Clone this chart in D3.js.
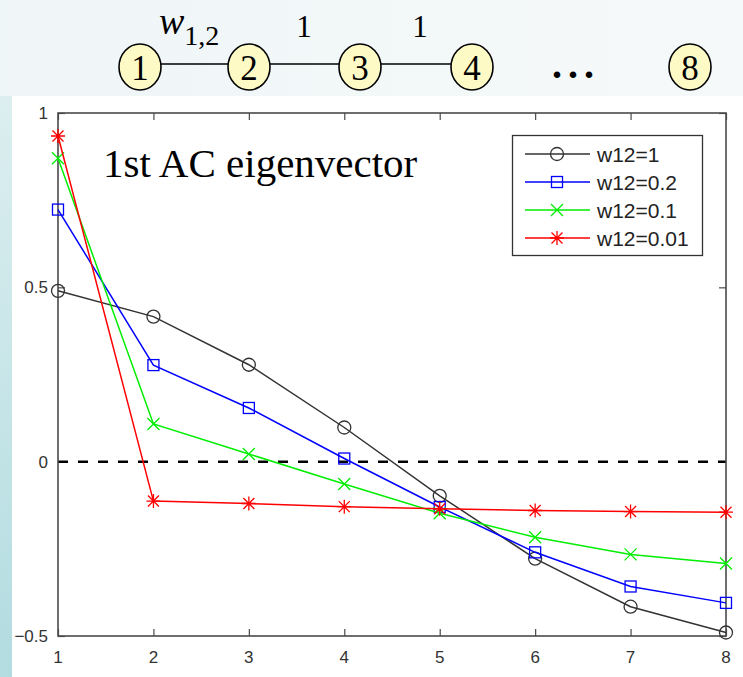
<!DOCTYPE html>
<html>
<head>
<meta charset="utf-8">
<script src="https://cdn.jsdelivr.net/npm/d3@7"></script>
<style>
  html, body { margin: 0; padding: 0; background: #f4f8f9; }
  svg { display: block; }
</style>
</head>
<body>
<svg id="chart" width="743" height="677"></svg>
<script>
// Node positions along the x axis (vertex index of the path graph)
const nodeIndex = [1, 2, 3, 4, 5, 6, 7, 8];

// Entries of the first AC eigenvector for each edge weight w12
const seriesNames = ["w12=1", "w12=0.2", "w12=0.1", "w12=0.01"];
const w12_1    = [0.490, 0.416, 0.278, 0.098, -0.098, -0.278, -0.416, -0.490];
const w12_02   = [0.723, 0.277, 0.154, 0.009, -0.130, -0.260, -0.358, -0.405];
const w12_01   = [0.870, 0.108, 0.022, -0.064, -0.148, -0.217, -0.266, -0.292];
const w12_001  = [0.934, -0.113, -0.120, -0.129, -0.135, -0.140, -0.143, -0.145];

const xTicks = [1, 2, 3, 4, 5, 6, 7, 8];
const yTicks = [-0.5, 0, 0.5, 1];

// Path-graph diagram drawn above the plot
const graphNodes = ["1", "2", "3", "4", "8"];
const edgeWeights = ["1", "1"];

const svg = d3.select("#chart");

// ---- background ----
const defs = svg.append("defs");
const lg = defs.append("linearGradient").attr("id", "stripGrad")
  .attr("x1", 0).attr("y1", 0).attr("x2", 0).attr("y2", 1);
lg.append("stop").attr("offset", "0%").attr("stop-color", "#dceef0");
lg.append("stop").attr("offset", "100%").attr("stop-color", "#b2dce0");

const topGrad = defs.append("linearGradient").attr("id", "topGrad")
  .attr("x1", 0).attr("y1", 0).attr("x2", 1).attr("y2", 0);
topGrad.append("stop").attr("offset", "0%").attr("stop-color", "#eff6f7");
topGrad.append("stop").attr("offset", "100%").attr("stop-color", "#f6f9fa");

svg.append("rect").attr("x", 0).attr("y", 0).attr("width", 743).attr("height", 96)
  .attr("fill", "url(#topGrad)");
svg.append("rect").attr("x", 0).attr("y", 96).attr("width", 12).attr("height", 581)
  .attr("fill", "url(#stripGrad)");
svg.append("rect").attr("x", 12).attr("y", 96).attr("width", 731).attr("height", 581)
  .attr("fill", "#ffffff");

// ---- graph diagram ----
const diag = svg.append("g");
const nodeX = d3.scaleOrdinal().domain(graphNodes).range([140, 249, 360, 472, 690]);
const nodeY = 67;
const nodeRx = 21, nodeRy = 23;

// edges 1-2, 2-3, 3-4
[["1", "2"], ["2", "3"], ["3", "4"]].forEach(([a, b]) => {
  diag.append("line")
    .attr("x1", nodeX(a) + nodeRx).attr("x2", nodeX(b) - nodeRx)
    .attr("y1", nodeY - 3).attr("y2", nodeY - 3)
    .attr("stroke", "#000").attr("stroke-width", 1.6);
});

diag.selectAll("ellipse.node").data(graphNodes).join("ellipse")
  .attr("class", "node")
  .attr("cx", d => nodeX(d)).attr("cy", nodeY)
  .attr("rx", nodeRx).attr("ry", nodeRy)
  .attr("fill", "#fdfac6").attr("stroke", "#000").attr("stroke-width", 1.6);

diag.selectAll("text.nlabel").data(graphNodes).join("text")
  .attr("class", "nlabel")
  .attr("x", d => nodeX(d)).attr("y", nodeY + 13)
  .attr("text-anchor", "middle")
  .attr("font-family", "'Liberation Serif', 'Times New Roman', serif")
  .attr("font-size", 35)
  .text(d => d);

// edge weight w_{1,2}
const wl = diag.append("text")
  .attr("x", 159).attr("y", 34)
  .attr("font-family", "'Liberation Serif', 'Times New Roman', serif");
wl.append("tspan").attr("font-style", "italic").attr("font-size", 38).text("w");
wl.append("tspan").attr("font-size", 28).attr("dy", 11).text("1,2");

diag.selectAll("text.wlabel").data(edgeWeights).join("text")
  .attr("class", "wlabel")
  .attr("x", (d, i) => [304, 420][i]).attr("y", 37)
  .attr("text-anchor", "middle")
  .attr("font-family", "'Liberation Serif', 'Times New Roman', serif")
  .attr("font-size", 31)
  .text(d => d);

diag.append("text")
  .attr("x", 552).attr("y", 78)
  .attr("font-family", "'Liberation Serif', 'Times New Roman', serif")
  .attr("font-size", 40).attr("font-weight", "bold").attr("letter-spacing", 6)
  .text("...");

// ---- plot ----
const x = d3.scaleLinear().domain([1, 8]).range([58, 726]);
const y = d3.scaleLinear().domain([-0.5, 1]).range([636, 113]);

const axisColor = "#4a4a4a";
const tickFont = "'Liberation Sans', Arial, sans-serif";

// inward ticks on all four sides
const plot = svg.append("g");
const bottomAxis = d3.axisTop(x).tickValues(xTicks).tickSize(7).tickFormat("");
const topAxis = d3.axisBottom(x).tickValues(xTicks).tickSize(7).tickFormat("");
const leftAxis = d3.axisRight(y).tickValues(yTicks).tickSize(7).tickFormat("");
const rightAxis = d3.axisLeft(y).tickValues(yTicks).tickSize(7).tickFormat("");

function styleAxis(g) {
  g.select(".domain").remove();
  g.selectAll(".tick line").attr("stroke", axisColor).attr("stroke-width", 1.2);
}
plot.append("g").attr("transform", `translate(0,${y(-0.5)})`).call(bottomAxis).call(styleAxis);
plot.append("g").attr("transform", `translate(0,${y(1)})`).call(topAxis).call(styleAxis);
plot.append("g").attr("transform", `translate(${x(1)},0)`).call(leftAxis).call(styleAxis);
plot.append("g").attr("transform", `translate(${x(8)},0)`).call(rightAxis).call(styleAxis);

// tick labels
plot.selectAll("text.xt").data(xTicks).join("text")
  .attr("class", "xt")
  .attr("x", d => x(d)).attr("y", 663)
  .attr("text-anchor", "middle")
  .attr("font-family", tickFont).attr("font-size", 17).attr("fill", "#333")
  .text(d => d);

const yFmt = d => d < 0 ? "\u2212" + Math.abs(d) : String(d);
plot.selectAll("text.yt").data(yTicks).join("text")
  .attr("class", "yt")
  .attr("x", 48).attr("y", d => y(d) + 6)
  .attr("text-anchor", "end")
  .attr("font-family", tickFont).attr("font-size", 17).attr("fill", "#333")
  .text(yFmt);

// zero reference line
plot.append("line")
  .attr("x1", x(1)).attr("x2", x(8))
  .attr("y1", y(0)).attr("y2", y(0))
  .attr("stroke", "#000").attr("stroke-width", 2.5)
  .attr("stroke-dasharray", "10,10");

// frame
plot.append("rect")
  .attr("x", x(1)).attr("y", y(1))
  .attr("width", x(8) - x(1)).attr("height", y(-0.5) - y(1))
  .attr("fill", "none").attr("stroke", axisColor).attr("stroke-width", 1.6);

// markers
function drawMarker(g, type, cx, cy, color) {
  if (type === "circle") {
    g.append("circle").attr("cx", cx).attr("cy", cy).attr("r", 6.5)
      .attr("fill", "none").attr("stroke", color).attr("stroke-width", 1.3);
  } else if (type === "square") {
    g.append("rect").attr("x", cx - 5.5).attr("y", cy - 5.5)
      .attr("width", 11).attr("height", 11)
      .attr("fill", "none").attr("stroke", color).attr("stroke-width", 1.3);
  } else if (type === "x") {
    const s = 6;
    g.append("path")
      .attr("d", `M${cx - s},${cy - s}L${cx + s},${cy + s}M${cx - s},${cy + s}L${cx + s},${cy - s}`)
      .attr("stroke", color).attr("stroke-width", 1.3);
  } else if (type === "star") {
    const s = 7, d = 5.5;
    g.append("path")
      .attr("d", `M${cx},${cy - s}L${cx},${cy + s}M${cx - s},${cy}L${cx + s},${cy}` +
        `M${cx - d},${cy - d}L${cx + d},${cy + d}M${cx - d},${cy + d}L${cx + d},${cy - d}`)
      .attr("stroke", color).attr("stroke-width", 1.3);
  }
}

const series = [
  { name: seriesNames[0], values: w12_1,   color: "#333333", marker: "circle" },
  { name: seriesNames[1], values: w12_02,  color: "#0000ff", marker: "square" },
  { name: seriesNames[2], values: w12_01,  color: "#00ee00", marker: "x" },
  { name: seriesNames[3], values: w12_001, color: "#ff0000", marker: "star" }
];

const line = d3.line().x(d => x(d[0])).y(d => y(d[1]));
series.forEach(s => {
  const pts = nodeIndex.map((n, i) => [n, s.values[i]]);
  const g = plot.append("g");
  g.append("path").attr("d", line(pts))
    .attr("fill", "none").attr("stroke", s.color).attr("stroke-width", 1.5);
  pts.forEach(p => drawMarker(g, s.marker, x(p[0]), y(p[1]), s.color));
});

// title inside plot
plot.append("text")
  .attr("x", 103).attr("y", 177)
  .attr("font-family", "'Liberation Serif', 'Times New Roman', serif")
  .attr("font-size", 41).attr("fill", "#000")
  .text("1st AC eigenvector");

// legend
const leg = plot.append("g");
leg.append("rect").attr("x", 512.5).attr("y", 135.5).attr("width", 190).attr("height", 120)
  .attr("fill", "#fff").attr("stroke", "#333").attr("stroke-width", 1.3);
const rowY = d3.scalePoint().domain(seriesNames).range([154, 238]);
series.forEach(s => {
  const cy = rowY(s.name);
  leg.append("line").attr("x1", 525).attr("x2", 590).attr("y1", cy).attr("y2", cy)
    .attr("stroke", s.color).attr("stroke-width", 1.5);
  drawMarker(leg, s.marker, 557, cy, s.color);
  leg.append("text").attr("x", 597).attr("y", cy + 8)
    .attr("font-family", tickFont).attr("font-size", 21).attr("fill", "#222")
    .text(s.name);
});
</script>
</body>
</html>
